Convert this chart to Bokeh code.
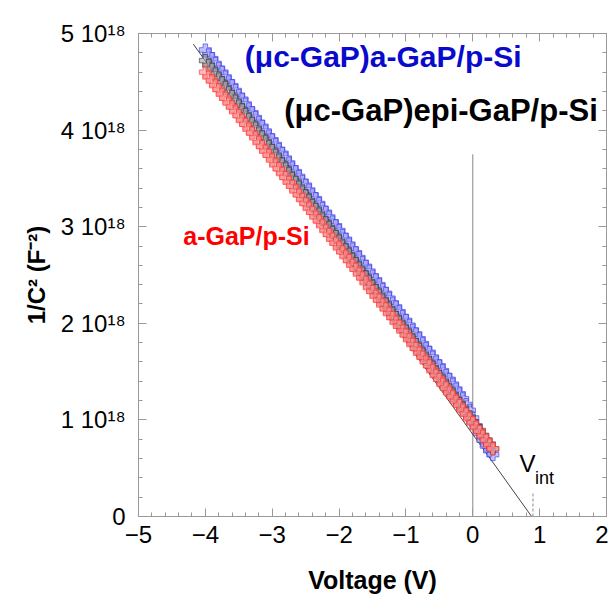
from bokeh.plotting import figure
from bokeh.models import (Range1d, FixedTicker, LinearAxis, Label, CustomJSTickFormatter)
from bokeh.embed import file_html
from bokeh.resources import INLINE

# ---- data (y in units of 1e18 F^-2) ----
voltage = [-4.00, -3.95, -3.90, -3.85, -3.80, -3.75, -3.70, -3.65, -3.60, -3.55,
           -3.50, -3.45, -3.40, -3.35, -3.30, -3.25, -3.20, -3.15, -3.10, -3.05,
           -3.00, -2.95, -2.90, -2.85, -2.80, -2.75, -2.70, -2.65, -2.60, -2.55,
           -2.50, -2.45, -2.40, -2.35, -2.30, -2.25, -2.20, -2.15, -2.10, -2.05,
           -2.00, -1.95, -1.90, -1.85, -1.80, -1.75, -1.70, -1.65, -1.60, -1.55,
           -1.50, -1.45, -1.40, -1.35, -1.30, -1.25, -1.20, -1.15, -1.10, -1.05,
           -1.00, -0.95, -0.90, -0.85, -0.80, -0.75, -0.70, -0.65, -0.60, -0.55,
           -0.50, -0.45, -0.40, -0.35, -0.30, -0.25, -0.20, -0.15, -0.10, -0.05,
           0.00, 0.05, 0.10, 0.15, 0.20, 0.25, 0.30]
uc_a_gap = [4.83, 4.78, 4.74, 4.69, 4.64, 4.60, 4.55, 4.50, 4.46, 4.41,
            4.36, 4.32, 4.27, 4.22, 4.18, 4.13, 4.08, 4.04, 3.99, 3.94,
            3.90, 3.85, 3.80, 3.76, 3.71, 3.66, 3.61, 3.57, 3.52, 3.47,
            3.43, 3.38, 3.33, 3.29, 3.24, 3.19, 3.15, 3.10, 3.05, 3.01,
            2.96, 2.91, 2.87, 2.82, 2.77, 2.73, 2.68, 2.63, 2.59, 2.54,
            2.49, 2.45, 2.40, 2.35, 2.31, 2.26, 2.21, 2.17, 2.12, 2.07,
            2.03, 1.98, 1.93, 1.89, 1.84, 1.79, 1.74, 1.70, 1.65, 1.60,
            1.56, 1.51, 1.46, 1.42, 1.37, 1.32, 1.27, 1.22, 1.16, 1.10,
            1.02, 0.94, 0.86, 0.79, 0.73, 0.68, 0.64]
uc_epi_gap = [4.72, 4.67, 4.63, 4.58, 4.53, 4.49, 4.44, 4.39, 4.35, 4.30,
              4.25, 4.21, 4.16, 4.11, 4.07, 4.02, 3.97, 3.93, 3.88, 3.83,
              3.79, 3.74, 3.69, 3.65, 3.60, 3.55, 3.50, 3.46, 3.41, 3.36,
              3.32, 3.27, 3.22, 3.18, 3.13, 3.08, 3.04, 2.99, 2.94, 2.90,
              2.85, 2.80, 2.76, 2.71, 2.66, 2.62, 2.57, 2.52, 2.48, 2.43,
              2.38, 2.34, 2.29, 2.24, 2.20, 2.15, 2.10, 2.06, 2.01, 1.96,
              1.92, 1.87, 1.82, 1.78, 1.73, 1.68, 1.63, 1.59, 1.54, 1.49,
              1.45, 1.40, 1.35, 1.31, 1.26, 1.21, 1.17, 1.12, 1.07, 1.03,
              0.98, 0.93, 0.89, 0.84, 0.79, 0.75, 0.70]
a_gap = [4.60, 4.55, 4.51, 4.46, 4.42, 4.37, 4.33, 4.28, 4.24, 4.19,
         4.15, 4.10, 4.06, 4.01, 3.97, 3.92, 3.87, 3.83, 3.78, 3.74,
         3.69, 3.64, 3.60, 3.55, 3.51, 3.46, 3.42, 3.37, 3.33, 3.28,
         3.24, 3.19, 3.15, 3.10, 3.06, 3.01, 2.96, 2.92, 2.87, 2.83,
         2.78, 2.74, 2.69, 2.65, 2.60, 2.56, 2.51, 2.47, 2.42, 2.37,
         2.33, 2.28, 2.24, 2.19, 2.15, 2.10, 2.06, 2.01, 1.97, 1.92,
         1.88, 1.83, 1.78, 1.74, 1.69, 1.65, 1.60, 1.56, 1.51, 1.46,
         1.42, 1.37, 1.33, 1.28, 1.24, 1.19, 1.15, 1.10, 1.06, 1.01,
         0.97, 0.92, 0.88, 0.83, 0.79, 0.74, 0.70]

fit_v = [-4.18, 0.88]
fit_y = [4.89, 0.0]
zero_v = [0.0, 0.0]
zero_y = [0.0, 3.75]
vint_v = [0.9, 0.9]
vint_y = [0.0, 0.24]

x_ticks = [-5, -4, -3, -2, -1, 0, 1, 2]
y_ticks = [0, 1, 2, 3, 4, 5]
y_tick_labels = ["0", "1 10¹⁸", "2 10¹⁸", "3 10¹⁸", "4 10¹⁸", "5 10¹⁸"]

FONT = "Liberation Sans"

p = figure(width=608, height=596, output_backend="svg", toolbar_location=None,
           x_range=Range1d(-5, 2), y_range=Range1d(0, 5),
           min_border_left=138, min_border_right=2, min_border_top=33,
           min_border_bottom=73)
p.grid.visible = False
p.outline_line_color = "#999999"
p.background_fill_color = "white"
p.border_fill_color = "white"

x_minor = [round(-5 + 0.2 * i, 2) for i in range(36)]
y_minor = [round(0.2 * i, 2) for i in range(26)]

def style_axis(ax, ticks, minor):
    ax.ticker = FixedTicker(ticks=ticks, minor_ticks=minor)
    ax.axis_line_color = "#999999"
    ax.major_tick_line_color = "#999999"
    ax.minor_tick_line_color = "#999999"
    ax.major_tick_in = 8
    ax.major_tick_out = 0
    ax.minor_tick_in = 4
    ax.minor_tick_out = 0
    ax.major_label_text_font = FONT
    ax.major_label_text_font_size = "24px"
    ax.major_label_text_color = "black"

xa = p.xaxis[0]
style_axis(xa, x_ticks, x_minor)
xa.major_label_standoff = 9
xa.axis_label = "Voltage (V)"
xa.axis_label_text_font = FONT
xa.axis_label_text_font_size = "25px"
xa.axis_label_text_font_style = "bold"
xa.axis_label_text_color = "black"
xa.axis_label_standoff = 20

ya = p.yaxis[0]
style_axis(ya, y_ticks, y_minor)
ya.major_label_overrides = {t: lab for t, lab in zip(y_ticks, y_tick_labels)}
ya.major_label_standoff = 13
ya.axis_label = "1/C² (F⁻²)"
ya.axis_label_text_font = FONT
ya.axis_label_text_font_size = "24px"
ya.axis_label_text_font_style = "bold"
ya.axis_label_text_color = "black"
ya.axis_label_standoff = 8

blank = CustomJSTickFormatter(code="return ''")
top = LinearAxis(formatter=blank)
style_axis(top, x_ticks, x_minor)
top.major_label_standoff = 0
top.major_label_text_font_size = "1px"
p.add_layout(top, "above")
right = LinearAxis(formatter=blank)
style_axis(right, y_ticks, y_minor)
right.major_label_standoff = 0
right.major_label_text_font_size = "1px"
p.add_layout(right, "right")

# reference lines
p.line(zero_v, zero_y, line_color="#888888", line_width=1)
p.line(vint_v, vint_y, line_color="#888888", line_width=1, line_dash="3 2")
p.line(fit_v, fit_y, line_color="#444444", line_width=1)

# data
p.scatter(voltage, uc_a_gap, marker="plus", size=12, fill_color="#9a9aff",
          fill_alpha=0.6, line_color="#3030dd", line_alpha=0.6, line_width=1)
p.scatter(voltage, uc_epi_gap, marker="plus", size=12, fill_color="#a0a0a0",
          fill_alpha=0.6, line_color="#303030", line_alpha=0.6, line_width=1)
p.scatter(voltage, a_gap, marker="plus", size=12, fill_color="#ff8c8c",
          fill_alpha=0.6, line_color="#ff3030", line_alpha=0.6, line_width=1)

# labels
p.add_layout(Label(x=-3.41, y=4.59, text="(μc-GaP)a-GaP/p-Si", text_font=FONT,
                   text_font_size="30px", text_font_style="bold",
                   text_color="#0a0acc"))
p.add_layout(Label(x=-2.82, y=4.02, text="(μc-GaP)epi-GaP/p-Si", text_font=FONT,
                   text_font_size="31px", text_font_style="bold",
                   text_color="black"))
p.add_layout(Label(x=-4.33, y=2.755, text="a-GaP/p-Si", text_font=FONT,
                   text_font_size="25px", text_font_style="bold",
                   text_color="#ff0000"))
p.add_layout(Label(x=0.70, y=0.41, text="V", text_font=FONT,
                   text_font_size="24px", text_color="black"))
p.add_layout(Label(x=0.93, y=0.29, text="int", text_font=FONT,
                   text_font_size="18px", text_color="black"))

open("out.html", "w").write(file_html(p, INLINE))
